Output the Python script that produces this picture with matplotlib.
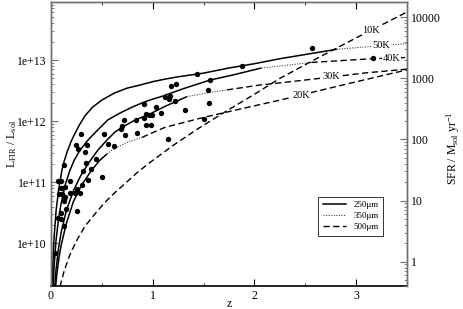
import numpy as np
import matplotlib
matplotlib.use("Agg")
import matplotlib.pyplot as plt
from matplotlib.ticker import LogLocator, FuncFormatter, MultipleLocator, NullFormatter
from matplotlib.lines import Line2D

plt.rcParams['font.family'] = ['Liberation Serif', 'DejaVu Serif']
plt.rcParams['mathtext.fontset'] = 'custom'
plt.rcParams['mathtext.rm'] = 'Liberation Serif'
plt.rcParams['mathtext.it'] = 'Liberation Serif:italic'

# ---- observed sources ----
obs_z = [0.039, 0.072, 0.103, 0.128, 0.098, 0.145, 0.259, 0.128, 0.079, 0.113,
         0.133, 0.098, 0.138, 0.187, 0.236, 0.285, 0.256, 0.305, 0.367, 0.069,
         0.098, 0.187, 0.504, 0.128, 0.341, 0.310, 0.393, 0.442, 0.357, 0.334,
         0.243, 0.263, 0.292, 0.524, 0.563, 0.617, 0.685, 0.701, 0.721, 0.731,
         0.833, 0.846, 0.912, 0.912, 0.931, 0.937, 0.964, 0.983, 0.990, 1.030,
         1.085, 1.118, 1.433, 1.881, 1.560, 1.183, 1.226, 1.157, 1.170, 1.219,
         1.318, 1.547, 1.551, 1.504, 1.153, 2.563, 3.169]
obs_L = [6.9e9, 2.6e10, 2.5e10, 1.9e10, 3.1e10, 3.6e10, 3.4e10, 5.0e10, 6.5e10, 6.5e10,
         5.7e10, 8.0e10, 8.3e10, 6.6e10, 6.6e10, 6.6e10, 7.7e10, 9.0e10, 1.09e11, 1.06e11,
         1.06e11, 1.06e11, 1.23e11, 1.89e11, 2.1e11, 1.54e11, 1.63e11, 2.4e11, 4.1e11, 3.1e11,
         4.0e11, 3.45e11, 6.2e11, 6.2e11, 4.2e11, 3.9e11, 7.4e11, 8.4e11, 1.04e12, 6.0e11,
         1.03e12, 6.5e11, 1.9e12, 1.11e12, 8.6e11, 1.31e12, 1.26e12, 8.6e11, 1.24e12, 1.72e12,
         1.34e12, 2.45e12, 5.8e12, 8.0e12, 4.7e12, 3.75e12, 4.1e12, 2.3e12, 2.6e12, 2.13e12,
         1.54e12, 3.2e12, 2.0e12, 1.08e12, 5.1e11, 1.59e13, 1.09e13]

# ---- detection-limit curves per dust temperature ----
z50 = [0.012, 0.02, 0.03, 0.05, 0.075, 0.108, 0.13, 0.16, 0.2, 0.236, 0.28, 0.334,
       0.41, 0.5, 0.625, 0.75, 0.875, 1.0, 1.125, 1.25, 1.5, 1.75, 2.0, 2.25, 2.5,
       2.81, 3.1, 3.5]
L50 = [1.95e9, 5.4e9, 1.23e10, 3.4e10, 7.6e10, 1.58e11, 2.22e11, 3.19e11, 4.74e11, 6.3e11,
       8.7e11, 1.22e12, 1.7e12, 2.21e12, 2.89e12, 3.47e12, 3.89e12, 4.42e12, 4.88e12, 5.31e12,
       6.1e12, 7.4e12, 8.7e12, 1.05e13, 1.23e13, 1.5e13, 1.64e13, 1.86e13]
z40 = [0.021, 0.03, 0.05, 0.075, 0.1, 0.14, 0.187, 0.23, 0.28, 0.364, 0.45, 0.56, 0.68,
       0.8, 0.9, 1.0, 1.1, 1.3, 1.56, 1.8, 2.07, 2.3, 2.56, 2.85, 3.16, 3.5]
L40 = [2.0e9, 4.07e9, 1.14e10, 2.57e10, 4.53e10, 9.1e10, 1.58e11, 2.32e11, 3.24e11, 4.9e11,
       6.9e11, 1.05e12, 1.36e12, 1.7e12, 2.0e12, 2.29e12, 2.57e12, 3.39e12, 4.68e12, 5.75e12,
       7.41e12, 8.13e12, 9.12e12, 9.77e12, 1.05e13, 1.1e13]
z30 = [0.037, 0.05, 0.075, 0.1, 0.15, 0.22, 0.29, 0.364, 0.462, 0.55, 0.629, 0.72, 0.826,
       0.973, 1.12, 1.335, 1.53, 1.73, 2.05, 2.25, 2.75, 3.1, 3.5]
L30 = [2.04e9, 3.8e9, 8.5e9, 1.51e10, 3.39e10, 7.24e10, 1.26e11, 2.0e11, 3.37e11, 4.9e11,
       6.64e11, 8.3e11, 1.04e12, 1.31e12, 1.74e12, 2.51e12, 2.88e12, 3.24e12, 3.89e12,
       4.22e12, 5.25e12, 6.17e12, 7.08e12]
z20 = [0.046, 0.06, 0.08, 0.1, 0.15, 0.22, 0.3, 0.4, 0.482, 0.55, 0.6, 0.75, 0.895,
       0.973, 1.12, 1.5, 2.0, 2.25, 2.75, 3.0, 3.5]
L20 = [2.0e9, 3.4e9, 6.0e9, 9.3e9, 2.1e10, 4.8e10, 8.9e10, 1.58e11, 2.3e11, 2.9e11,
       3.37e11, 4.5e11, 5.4e11, 6.2e11, 7.9e11, 1.15e12, 1.78e12, 2.2e12, 3.5e12, 4.4e12, 6.9e12]
z10 = [0.0885, 0.13, 0.187, 0.26, 0.334, 0.43, 0.531, 0.63, 0.728, 0.85, 0.973, 1.2,
       1.45, 1.73, 2.0, 2.25, 2.645, 3.0, 3.5]
L10 = [1.95e9, 3.55e9, 6.6e9, 1.17e10, 1.9e10, 3.0e10, 4.7e10, 6.8e10, 9.5e10, 1.45e11,
       2.1e11, 4.0e11, 7.6e11, 1.48e12, 2.75e12, 5.0e12, 1.13e13, 2.3e13, 6.1e13]

# limiting band as a function of redshift: (band, z_start, z_end)
bands50 = [("250", 0.0, 2.81), ("350", 2.81, 3.5)]
bands40 = [("250", 0.0, 2.07), ("350", 2.07, 2.56), ("500", 2.56, 3.5)]
bands30 = [("250", 0.0, 1.335), ("350", 1.335, 1.73), ("500", 1.73, 3.5)]
bands20 = [("250", 0.0, 0.55), ("350", 0.55, 0.895), ("500", 0.895, 3.5)]
bands10 = [("500", 0.0, 3.5)]

curve_names = ["50K", "40K", "30K", "20K", "10K"]
label_z = [3.25, 3.35, 2.76, 2.46, 3.15]

legend_labels = ["250\u03bcm", "350\u03bcm", "500\u03bcm"]
SFR_PER_L = 2.0e-10

styles = {"250": dict(ls='-', lw=1.1, color='black'),
          "350": dict(ls=(0, (1, 1.3)), lw=0.8, color='#444444'),
          "500": dict(ls=(0, (4.5, 2.5)), lw=1.0, color='black')}

fig = plt.figure(figsize=(4.63, 3.09), dpi=100)
ax = fig.add_axes([51/463, 1 - 286/309, 356/463, 284/309])
ax.set_yscale('log')
ax.set_xlim(0, 3.5)
ax.set_ylim(2.0e9, 8.9e13)

curves = [(z50, L50, bands50), (z40, L40, bands40), (z30, L30, bands30),
          (z20, L20, bands20), (z10, L10, bands10)]
for (zz, LL, bands), name, lz in zip(curves, curve_names, label_z):
    zz = np.array(zz); LL = np.array(LL)
    for band, z0, z1 in bands:
        m = (zz >= z0 - 1e-9) & (zz <= z1 + 1e-9)
        ax.plot(zz[m], LL[m], solid_capstyle='butt', **styles[band])
    ly = 10 ** np.interp(lz, zz, np.log10(LL))
    ax.text(lz, ly, name, fontsize=7.5, ha='center', va='center',
            bbox=dict(facecolor='white', edgecolor='none', pad=0.6), zorder=5)

ax.scatter(obs_z, obs_L, s=15, color='black', zorder=6, linewidths=0)

# legend
handles = [Line2D([], [], **styles[b]) for b in ["250", "350", "500"]]
leg = ax.legend(handles, legend_labels, loc='upper left', bbox_to_anchor=(0.75, 0.315),
                borderaxespad=0, fontsize=6.5, frameon=True, fancybox=False,
                handlelength=2.6, handletextpad=0.8, borderpad=0.5, labelspacing=0.3)
leg.get_frame().set_edgecolor('black')
leg.get_frame().set_linewidth(0.7)

GRAY = '#707070'
# axes styling
ax.xaxis.set_major_locator(MultipleLocator(1))
ax.xaxis.set_minor_locator(MultipleLocator(0.5))
ax.yaxis.set_major_locator(LogLocator(base=10, numticks=10))
ax.yaxis.set_minor_locator(LogLocator(base=10, subs=np.arange(2, 10), numticks=100))
ax.yaxis.set_major_formatter(FuncFormatter(lambda v, p: "1e+%d" % int(round(np.log10(v)))))
ax.yaxis.set_minor_formatter(NullFormatter())
ax.tick_params(which='both', direction='in', top=True, right=False, labelsize=8.5, pad=3)
ax.tick_params(which='major', length=5, width=0.8)
ax.tick_params(which='minor', length=2.5, width=0.6)
ax.tick_params(axis='y', which='both', color=GRAY)

ax2 = ax.twinx()
ax2.set_yscale('log')
ax2.set_ylim(2.0e9 * SFR_PER_L, 8.9e13 * SFR_PER_L)
ax2.yaxis.set_major_locator(LogLocator(base=10, numticks=10))
ax2.yaxis.set_minor_locator(LogLocator(base=10, subs=np.arange(2, 10), numticks=100))
ax2.yaxis.set_major_formatter(FuncFormatter(lambda v, p: "%d" % int(round(v))))
ax2.yaxis.set_minor_formatter(NullFormatter())
ax2.tick_params(which='both', direction='in', labelsize=8.5, pad=3, color=GRAY)
ax2.tick_params(which='major', length=5, width=0.8)
ax2.tick_params(which='minor', length=2.5, width=0.6)

# axis titles placed in figure pixels
W, H = 463.0, 309.0
fig.text(229 / W, 1 - 304 / H, 'z', fontsize=8.5, ha='center', va='center')
fig.text(12 / W, 1 - 144 / H, r'L$_{\rm FIR}$ / L$_{\rm sol}$', fontsize=8.5,
         rotation=90, ha='center', va='center')
fig.text(453 / W, 1 - 148 / H, r'SFR / M$_{\rm sol}$ yr$^{-1}$', fontsize=8.5,
         rotation=90, ha='center', va='center')

for a in (ax, ax2):
    for name, s in a.spines.items():
        s.set_linewidth(1.0)
        s.set_color(GRAY)
ax.spines['bottom'].set_color('black')
ax.spines['bottom'].set_linewidth(1.2)
ax2.spines['bottom'].set_visible(False)

fig.savefig('out.png', dpi=100)
